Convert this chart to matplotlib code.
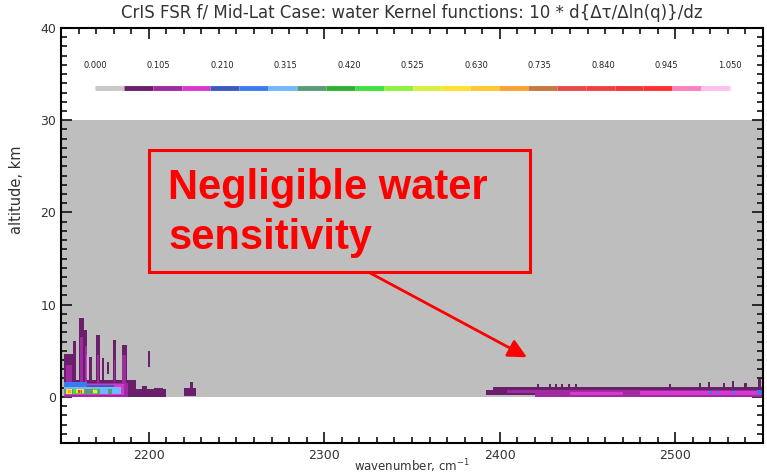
import numpy as np
import matplotlib
matplotlib.use('Agg')
import matplotlib.pyplot as plt
from matplotlib.colors import ListedColormap, BoundaryNorm
from matplotlib.patches import Rectangle
from matplotlib.ticker import MultipleLocator

# ── color table (22 levels from 0 to 1.05) ───────────────────────────────────
level_colors = ['#c8c8c8', '#6a1f6a', '#a02aa0', '#d838d0', '#3a5ac0', '#3a7cf0',
                '#70b8ff', '#5a9a78', '#30b030', '#40e040', '#90f040', '#d8f040',
                '#ffe030', '#ffc830', '#ffa030', '#c87838', '#e84848', '#f04040',
                '#f03838', '#ff3030', '#ff80c0', '#ffc0f0']
cbar_labels = ['0.000', '0.105', '0.210', '0.315', '0.420', '0.525',
               '0.630', '0.735', '0.840', '0.945', '1.050']
vmax = 1.05

# ── kernel blobs: wn start, wn end, alt bottom, alt top, kernel value ────────
blob_x0 = [2152, 2193, 2196, 2203, 2220, 2223.5,
           2152, 2157, 2160.5, 2163, 2166, 2170, 2173.5, 2176.5, 2179.5, 2184.5, 2199.5,
           2153, 2161, 2163.5, 2170.5, 2180, 2185, 2152,
           2152, 2164,
           2152, 2152, 2152,
           2152, 2177, 2157, 2168,
           2153, 2158.5, 2168.5, 2154, 2159.5, 2159.8, 2161.2,
           2392, 2396, 2420, 2404, 2420, 2440, 2480,
           2519.5, 2523.5, 2532.5, 2546.5]
blob_x1 = [2193, 2210, 2199, 2208, 2227, 2225,
           2157, 2158.5, 2163, 2165, 2167.5, 2172, 2174.5, 2177.5, 2181.5, 2187.5, 2201,
           2156, 2162.5, 2165, 2171.5, 2181, 2187, 2188,
           2186, 2165,
           2180, 2165, 2184,
           2172, 2179, 2163, 2171,
           2156, 2163, 2170.5, 2155.5, 2162, 2160.6, 2162,
           2420, 2550, 2550, 2423, 2550, 2470, 2550,
           2521, 2525, 2534, 2549.5]
blob_z0 = [0, 0, 0, 0.1, 0.1, 0.1,
           0, 0, 0, 0, 0, 0, 1.8, 2.5, 0, 0, 3.2,
           0.5, 1.0, 0.8, 1.0, 1.0, 1.0, 0,
           0.2, 2.0,
           0.3, 0.9, 0.3,
           0.3, 0.3, 0.35, 0.35,
           0.35, 0.4, 0.4, 0.45, 0.45, 0.45, 0.45,
           0.2, 0.3, 0, 0.45, 0, 0.2, 0.2,
           0.3, 0.3, 0.3, 0.3]
blob_z1 = [1.8, 0.9, 1.2, 1.0, 1.0, 1.6,
           4.6, 6.1, 8.6, 7.3, 4.3, 6.7, 4.2, 3.8, 6.2, 5.6, 5.0,
           3.5, 6.5, 5.5, 4.5, 4.0, 4.5, 1.5,
           1.4, 4.5,
           1.3, 1.6, 1.1,
           0.9, 0.9, 0.9, 0.85,
           0.85, 0.85, 0.8, 0.8, 0.8, 0.75, 0.75,
           0.8, 1.1, 1.1, 0.75, 0.8, 0.5, 0.65,
           0.6, 0.6, 0.6, 0.7]
blob_val = [.07, .07, .07, .07, .07, .07,
            .07, .07, .07, .07, .07, .07, .07, .07, .07, .07, .07,
            .12, .12, .12, .12, .12, .12, .12,
            .17, .17,
            .21, .26, .30,
            .38, .38, .43, .43,
            .60, .60, .60, .70, .70, .85, .85,
            .07, .07, .07, .12, .12, .17, .17,
            .26, .26, .26, .26]

# small dark-purple spikes on top of the 2400-2550 band
spike_wn = [2422, 2428.5, 2432, 2435.5, 2439.5, 2443.5,
            2497, 2514, 2519, 2528, 2533, 2540, 2548]
spike_top = [1.4, 1.4, 1.4, 1.4, 1.4, 1.4,
             1.4, 1.5, 1.6, 1.5, 1.7, 1.5, 1.9]

cmap = ListedColormap(level_colors)
bounds = np.linspace(0, vmax, len(level_colors) + 1)
norm = BoundaryNorm(bounds, cmap.N)

# ── figure ───────────────────────────────────────────────────────────────────
fig = plt.figure(figsize=(7.67, 4.74), dpi=100)
ax = fig.add_axes([0.0795, 0.0654, 0.9153, 0.8755])
ax.set_xlim(2150, 2550)
ax.set_ylim(-5, 40)

# gray fill where the kernel is below the first level
ax.fill_between([2150, 2550], 0, 30, color='#bebebe', lw=0, zorder=1)

order = np.argsort(blob_val, kind='stable')
for i in order:
    ax.bar(blob_x0[i], blob_z1[i] - blob_z0[i], width=blob_x1[i] - blob_x0[i],
           bottom=blob_z0[i], align='edge', color=cmap(norm(blob_val[i])),
           lw=0, zorder=2)
ax.bar(spike_wn, spike_top, width=1.2, bottom=0, color=cmap(norm(0.07)),
       lw=0, zorder=1.5)

# in-plot color legend
seg_x0, seg_x1 = 2169.4, 2531.2
seg_edges = np.linspace(seg_x0, seg_x1, len(level_colors) + 1)
for k, c in enumerate(level_colors):
    ax.hlines(33.5, seg_edges[k], seg_edges[k + 1], color=c, lw=3.5, zorder=3)
for k, lab in enumerate(cbar_labels):
    xk = seg_x0 + k * (seg_x1 - seg_x0) / (len(cbar_labels) - 1)
    ax.text(xk, 35.9, lab, ha='center', va='center', fontsize=6, color='#222')

# annotation
ax.add_patch(Rectangle((2200, 13.5), 217, 13.3, fill=False, ec='#ff0000',
                       lw=2.2, zorder=4))
ax.text(2211, 21.5, 'Negligible water', fontsize=30, fontweight='bold',
        color='#ff0000', family='Liberation Sans', va='baseline', zorder=5)
ax.text(2211, 16.0, 'sensitivity', fontsize=30, fontweight='bold',
        color='#ff0000', family='Liberation Sans', va='baseline', zorder=5)
ax.annotate('', xy=(2415.5, 4.3), xytext=(2325.5, 13.5),
            arrowprops=dict(arrowstyle='-|>', color='#ff0000', lw=2,
                            mutation_scale=28, shrinkA=0, shrinkB=0), zorder=5)

# axes styling
ax.xaxis.set_major_locator(MultipleLocator(100))
ax.xaxis.set_minor_locator(MultipleLocator(10))
ax.yaxis.set_major_locator(MultipleLocator(10))
ax.yaxis.set_minor_locator(MultipleLocator(1))
ax.tick_params(which='both', direction='in', top=True, right=True,
               colors='#111', labelcolor='#333', labelsize=9)
ax.tick_params(which='major', length=8, width=1.2)
ax.tick_params(which='minor', length=4, width=1.2)
ax.tick_params(axis='x', pad=4)
for s in ax.spines.values():
    s.set_linewidth(1.5)
    s.set_zorder(6)

ax.set_xlabel('wavenumber, cm$^{-1}$', fontsize=8.5, color='#333', va='center')
ax.xaxis.set_label_coords(0.5, -0.055)
ax.set_ylabel('altitude, km', fontsize=10.5, color='#333')
ax.yaxis.set_label_coords(-0.052, 0.61)
ax.set_title('CrIS FSR f/ Mid-Lat Case: water Kernel functions: 10 * d{Δτ/Δln(q)}/dz',
             fontsize=12, color='#333', pad=7)

fig.savefig('out.png', dpi=100)
